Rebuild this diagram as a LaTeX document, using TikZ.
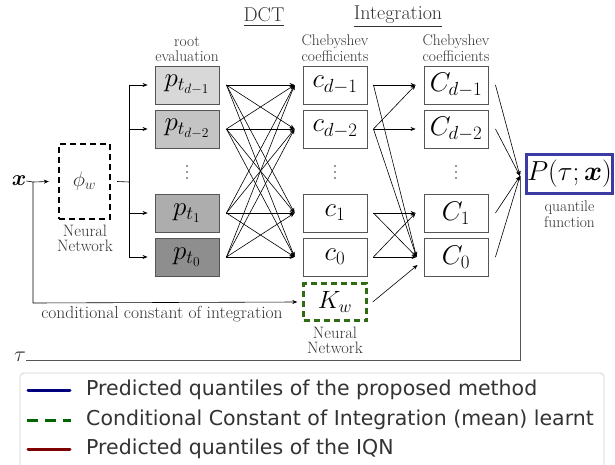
\RequirePackage{fix-cm}
\documentclass[tikz,border=0pt]{standalone}
\usepackage{fontspec}
\usepackage{amsmath,bm}
\newfontfamily\legendfont{DejaVu Sans}
\usetikzlibrary{arrows.meta}
\definecolor{boxgray}{HTML}{555555}
\definecolor{txtgray}{HTML}{333333}
\definecolor{pa}{HTML}{D8D8D8}
\definecolor{pb}{HTML}{C4C4C4}
\definecolor{pc}{HTML}{ADADAD}
\definecolor{pd}{HTML}{8E8E8E}
\definecolor{pblue}{HTML}{3B3BA3}
\definecolor{kgreen}{HTML}{2F6B10}
\definecolor{lnavy}{HTML}{00007F}
\definecolor{lgreen}{HTML}{006400}
\definecolor{lred}{HTML}{7F0000}
\begin{document}
\begin{tikzpicture}[x=1pt,y=-1pt,
  cbox/.style={draw=boxgray,line width=0.9pt,minimum width=64pt,minimum height=38pt,inner sep=0pt,font=\fontsize{27}{29}\selectfont},
  lab/.style={text=txtgray,font=\fontsize{15.5}{15.5}\selectfont,inner sep=0pt},
  nnlab/.style={text=txtgray,font=\fontsize{16.5}{16.5}\selectfont,inner sep=0pt},
  conn/.style={line width=0.6pt,-{Stealth[length=5pt,width=4pt]}},
  plain/.style={line width=0.6pt},
  gline/.style={line width=0.8pt,draw=boxgray},
  dotc/.style={fill=txtgray,draw=none,circle,inner sep=0pt,minimum size=1.6pt},
  legtext/.style={anchor=west,inner sep=0pt,text=txtgray,font=\legendfont\fontsize{20.5}{22}\selectfont}]
\useasboundingbox (0,0) rectangle (615,465);

% p boxes
\node[cbox,fill=pa] (p3) at (187,85) {$p_{t_{d-1}}$};
\node[cbox,fill=pb] (p2) at (187,129) {$p_{t_{d-2}}$};
\node[cbox,fill=pc] (p1) at (187,213) {$p_{t_1}$};
\node[cbox,fill=pd] (p0) at (187,257) {$p_{t_0}$};
% c boxes
\node[cbox] (c3) at (335,85) {$c_{d-1}$};
\node[cbox] (c2) at (335,129) {$c_{d-2}$};
\node[cbox] (c1) at (335,213) {$c_1$};
\node[cbox] (c0) at (335,257) {$c_0$};
% C boxes
\node[cbox] (C3) at (456,85) {$C_{d-1}$};
\node[cbox] (C2) at (456,129) {$C_{d-2}$};
\node[cbox] (C1) at (456,213) {$C_1$};
\node[cbox] (C0) at (456,257) {$C_0$};
% dots
\foreach \xx in {187,335,456}{
  \foreach \yy in {166,172,178}{
    \node[dotc] at (\xx,\yy) {};
  }
}

% P box
\node[draw=pblue,line width=2.4pt,minimum width=86pt,minimum height=39pt,inner sep=0pt,font=\fontsize{27.5}{29}\selectfont] (P) at (569.5,174) {$P(\tau;\bm{x})$};
\node[lab] (qf1) at (569.5,208) {quantile};
\node[lab] (qf2) at (569.5,222) {function};

% K_w
\node[draw=kgreen,line width=2.4pt,dash pattern=on 6pt off 4pt,minimum width=63pt,minimum height=37pt,inner sep=0pt,font=\fontsize{25}{27}\selectfont] (Kw) at (335,302) {$K_w$};
\node[nnlab] (nn2a) at (335,333) {Neural};
\node[nnlab] (nn2b) at (335,348) {Network};

% phi
\node[draw=black,line width=2.4pt,dash pattern=on 6pt off 4pt,minimum width=51pt,minimum height=75pt,inner sep=0pt,font=\fontsize{21}{24}\selectfont,text=txtgray] (phi) at (84.5,181.5) {$\phi_w$};
\node[nnlab] (nn1a) at (85,231) {Neural};
\node[nnlab] (nn1b) at (85,246) {Network};

% x input
\node[font=\fontsize{22}{24}\selectfont,inner sep=0pt] (x) at (19,181) {$\bm{x}$};
\coordinate (xs) at (33,182);
\coordinate (xd) at (33,303);
\draw[plain] (x.east) -- (xs);
\draw[conn] (xs) -- ([xshift=-9pt]phi.west);
\draw[conn] (xs) -- (xd) -- ([xshift=-5pt]Kw.west);
\node[lab,font=\fontsize{17.5}{17.5}\selectfont] (cci) at (162,314) {conditional constant of integration};

% phi to p
\coordinate (ph) at (129,182);
\coordinate (pt) at (129,85);
\coordinate (pb) at (129,257);
\draw[plain] ([xshift=6pt]phi.east) -- (ph);
\draw[plain] (pt) -- (pb);
\foreach \n in {p3,p2,p1,p0}{
  \draw[conn] (pt |- \n.west) -- ([xshift=-7pt]\n.west);
}

% labels
\node[lab] (re1) at (187,42) {root};
\node[lab] (re2) at (187,56) {evaluation};
\node[lab] (ch1a) at (335,42) {Chebyshev};
\node[lab] (ch1b) at (335,56) {coefficients};
\node[lab] (ch2a) at (456,42) {Chebyshev};
\node[lab] (ch2b) at (456,56) {coefficients};
\node[lab,font=\fontsize{20}{20}\selectfont] (dct) at (264,17) {\underline{DCT}};
\node[lab,font=\fontsize{20}{20}\selectfont] (int) at (398,17) {\underline{Integration}};

% DCT full connections
\foreach \a in {p3,p2,p1,p0}{
  \foreach \b in {c3,c2,c1,c0}{
    \draw[conn] ([xshift=7pt]\a.east) -- ([xshift=-8pt]\b.west);
  }
}

% integration connections
\draw[conn] ([xshift=6pt]c3.east) -- ([xshift=-8pt]C3.west);
\draw[conn] ([xshift=6pt]c3.east) -- ([xshift=-7pt]C0.west);
\draw[conn] ([xshift=6pt]c2.east) -- ([xshift=-8pt]C3.west);
\draw[conn] ([xshift=6pt]c2.east) -- ([xshift=-8pt]C2.west);
\draw[conn] ([xshift=6pt]c2.east) -- ([xshift=-7pt]C0.west);
\draw[conn] ([xshift=6pt]c1.east) -- ([xshift=-8pt]C1.west);
\draw[conn] ([xshift=6pt]c1.east) -- ([xshift=-7pt]C0.west);
\draw[conn] ([xshift=6pt]c0.east) -- ([xshift=-8pt]C1.west);
\draw[conn] ([xshift=6pt]c0.east) -- ([xshift=-7pt]C0.west);
\draw[conn] ([xshift=5pt]Kw.east) -- ([xshift=-6pt,yshift=-8pt]C0.west);

% to P
\coordinate (conv) at (520,176);
\foreach \n in {C3,C2,C1,C0}{
  \draw[conn] ([xshift=7pt]\n.east) -- (conv);
}
\node[font=\fontsize{22}{24}\selectfont,inner sep=0pt,text=txtgray] (tau) at (20,357) {$\tau$};
\coordinate (tc) at (520,360);
\draw[gline] (tau.east |- tc) -- (tc) -- (conv);

% legend
\draw[draw=black!18,line width=0.8pt,fill=white,rounded corners=4pt] (20,373) rectangle (604,490);
\draw[lnavy,line width=3pt,line cap=round] (28,390) -- (70,390);
\draw[lgreen,line width=3pt,dash pattern=on 11pt off 7pt] (27,420) -- (71,420);
\draw[lred,line width=3pt,line cap=round] (28,449) -- (70,449);
\node[legtext] (l1) at (86,390) {Predicted quantiles of the proposed method};
\node[legtext] (l2) at (86,420) {Conditional Constant of Integration (mean) learnt};
\node[legtext] (l3) at (86,449) {Predicted quantiles of the IQN};
\end{tikzpicture}
\end{document}
